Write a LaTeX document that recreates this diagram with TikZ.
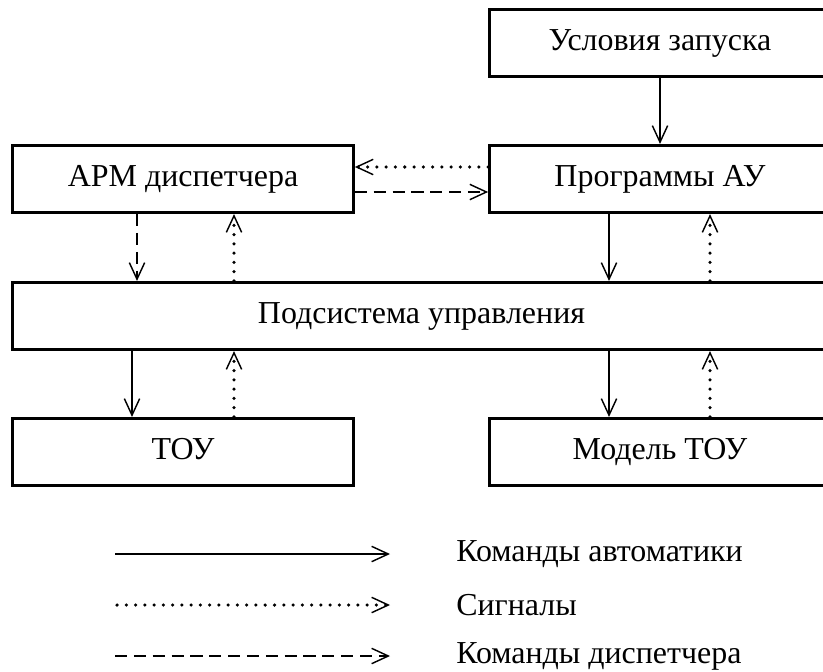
\documentclass[tikz,border=0pt]{standalone}
\usepackage{fontspec}
\setmainfont{Liberation Serif}
\usetikzlibrary{arrows.meta, calc}

\tikzset{
    block/.style={draw, line width=0.9pt, minimum width=3.75cm, minimum height=0.74cm, inner sep=0pt, text height=7pt, text depth=2pt},
    cmd/.style={->, line width=0.6pt},
    sig/.style={->, line width=1.1pt, line cap=round, dash pattern=on 0pt off 2.9pt},
    disp/.style={->, line width=0.35pt, dash pattern=on 3.8pt off 2.1pt},
}

\begin{document}
\begin{tikzpicture}[x=0.011cm, y=-0.011cm, font=\fontsize{10}{12}\selectfont,
    >={Straight Barb[length=5.2pt, width=4.8pt, line width=0.45pt, line cap=butt]}]
    \useasboundingbox (0, 0) rectangle (823, 671);

    \node[block] (cond) at (660, 43) {Условия запуска};
    \node[block] (arm) at (183, 179) {АРМ диспетчера};
    \node[block] (prog) at (660, 179) {Программы АУ};
    \node[block, minimum width=8.99cm] (sub) at (421.5, 316) {Подсистема управления};
    \node[block] (tou) at (183, 452) {ТОУ};
    \node[block] (mtou) at (660, 452) {Модель ТОУ};

    \draw[cmd] (cond.south) -- (prog.north);
    \draw[sig] ($(prog.west) + (0, -12)$) -- ($(arm.east) + (0, -12)$);
    \draw[disp] ($(arm.east) + (0, 13)$) -- ($(prog.west) + (0, 13)$);

    \draw[disp] ($(arm.south) + (-46, 0)$) -- ($(arm.south |- sub.north) + (-46, 0)$);
    \draw[sig] ($(arm.south |- sub.north) + (51, 0)$) -- ($(arm.south) + (51, 0)$);
    \draw[cmd] ($(prog.south) + (-51, 0)$) -- ($(prog.south |- sub.north) + (-51, 0)$);
    \draw[sig] ($(prog.south |- sub.north) + (50, 0)$) -- ($(prog.south) + (50, 0)$);

    \draw[cmd] ($(tou.north |- sub.south) + (-51, 0)$) -- ($(tou.north) + (-51, 0)$);
    \draw[sig] ($(tou.north) + (51, 0)$) -- ($(tou.north |- sub.south) + (51, 0)$);
    \draw[cmd] ($(mtou.north |- sub.south) + (-51, 0)$) -- ($(mtou.north) + (-51, 0)$);
    \draw[sig] ($(mtou.north) + (50, 0)$) -- ($(mtou.north |- sub.south) + (50, 0)$);

    \coordinate (cmdA) at (115, 554);
    \coordinate (cmdB) at (390, 554);
    \coordinate (sigA) at (117, 605);
    \coordinate (sigB) at (390, 605);
    \coordinate (dispA) at (115, 656);
    \coordinate (dispB) at (390, 656);
    \node[anchor=west] (cmdtext) at (445, 554) {Команды автоматики};
    \node[anchor=west] (sigtext) at (445, 605) {Сигналы};
    \node[anchor=west] (disptext) at (445, 656) {Команды диспетчера};

    \draw[cmd, line width=0.9pt] (cmdA) -- (cmdB);
    \draw[sig] (sigA) -- (sigB);
    \draw[disp] (dispA) -- (dispB);
\end{tikzpicture}
\end{document}
